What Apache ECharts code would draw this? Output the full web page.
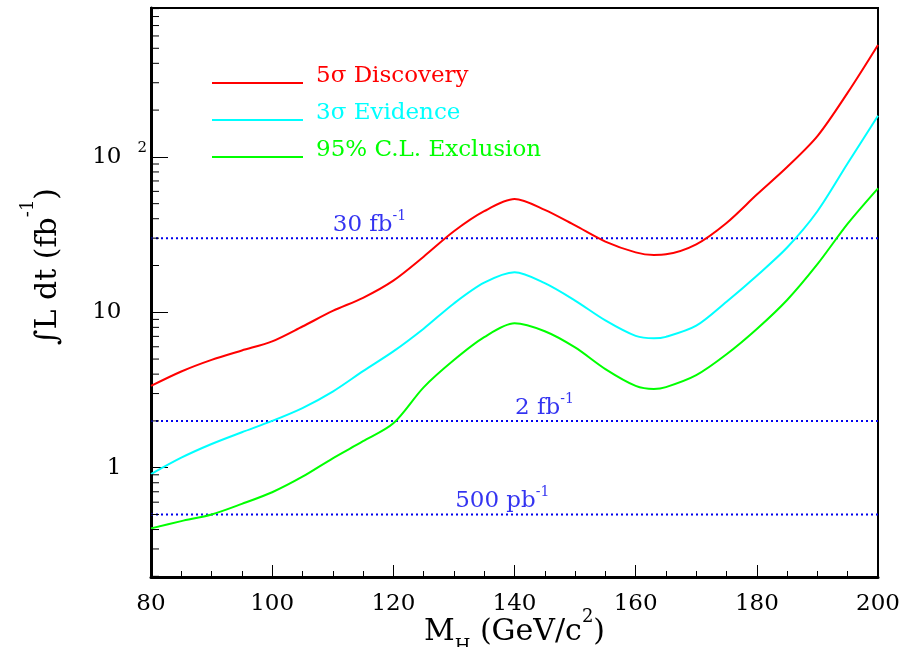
<!DOCTYPE html>
<html><head><meta charset="utf-8">
<script src="https://cdn.jsdelivr.net/npm/echarts@6/dist/echarts.min.js"></script>
<style>html,body{margin:0;padding:0;background:#fff}#c{width:921px;height:647px}</style>
</head><body><div id="c"></div>
<script>
// ---- data ----
const masses      = [80, 85, 90, 95, 100, 105, 110, 115, 120, 125, 130, 135, 140, 145, 150, 155, 160, 163, 165, 170, 175, 180, 185, 190, 195, 200];
const discovery5s = [3.36, 4.16, 4.94, 5.68, 6.5, 8.1, 10.2, 12.4, 16.0, 22.8, 33.2, 44.7, 53.5, 45.6, 36.2, 28.5, 24.3, 23.4, 23.6, 27.4, 37.6, 57.2, 86, 136, 259, 525];
const evidence3s  = [0.91, 1.16, 1.42, 1.69, 2.0, 2.42, 3.09, 4.18, 5.6, 7.84, 11.4, 15.5, 18.1, 15.4, 11.9, 8.87, 7.05, 6.8, 6.95, 8.2, 11.7, 17.2, 26.1, 44.7, 91, 184];
const exclusion95 = [0.407, 0.453, 0.50, 0.585, 0.695, 0.875, 1.15, 1.48, 1.93, 3.29, 4.93, 6.92, 8.5, 7.55, 5.94, 4.31, 3.36, 3.21, 3.3, 3.94, 5.37, 7.81, 12.0, 20.4, 37.2, 62.8];
const seriesNames = ['5σ Discovery', '3σ Evidence', '95% C.L. Exclusion'];
const seriesColors = ['#ff0000', '#00ffff', '#00ff00'];

const refLevels    = [30, 2, 0.5];
const refMainText  = ['30 fb', '2 fb', '500 pb'];
const refSupText   = ['-1', '-1', '-1'];
const refLabelMass = [110, 140.1, 130.2];

const xRange = [80, 200];
const xInterval = 20;
const yRange = [0.198, 908];
const yMinorTicks = [0.2,0.3,0.4,0.5,0.6,0.7,0.8,0.9, 2,3,4,5,6,7,8,9, 20,30,40,50,60,70,80,90, 200,300,400,500,600,700,800,900];

// ---- chart ----
const FONT = 'DejaVu Serif';
const BLUE = '#0000ee';
const chart = echarts.init(document.getElementById('c'), null, {renderer: 'canvas'});

const curveData = [discovery5s, evidence3s, exclusion95];
const series = curveData.map((arr, k) => ({
  name: seriesNames[k],
  type: 'line',
  data: masses.map((m, i) => [m, arr[i]]),
  symbol: 'none',
  smooth: 0.3,
  lineStyle: {color: seriesColors[k], width: 2},
  itemStyle: {color: seriesColors[k]},
  z: 5,
  silent: true
}));

refLevels.forEach((lvl) => {
  series.push({
    type: 'line',
    data: [[xRange[0], lvl], [xRange[1], lvl]],
    symbol: 'none',
    lineStyle: {color: BLUE, width: 2, type: [2, 3]},
    silent: true,
    z: 3
  });
});

series.push({
  type: 'scatter',
  symbolSize: 0,
  silent: true,
  z: 6,
  data: refLevels.map((lvl, i) => ({
    value: [refLabelMass[i], lvl],
    label: {formatter: '{n|' + refMainText[i] + '}{s|' + refSupText[i] + '}'}
  })),
  label: {
    show: true,
    position: 'top',
    align: 'left',
    distance: -3,
    rich: {
      n: {fontFamily: FONT, fontSize: 23, color: BLUE, lineHeight: 32, verticalAlign: 'middle'},
      s: {fontFamily: FONT, fontSize: 14, color: BLUE, lineHeight: 14, verticalAlign: 'top'}
    }
  }
});

// y minor ticks (inside, on left axis)
series.push({
  type: 'custom',
  silent: true,
  clip: false,
  z: 7,
  data: yMinorTicks.map(v => [xRange[0], v]),
  encode: {x: 0, y: 1},
  renderItem: (params, api) => {
    const p = api.coord([api.value(0), api.value(1)]);
    return {type: 'line', shape: {x1: p[0], y1: p[1], x2: p[0] + 8, y2: p[1]},
            style: {stroke: '#000', lineWidth: 1}};
  }
});

const option = {
  animation: false,
  backgroundColor: '#fff',
  grid: {left: 151, right: 43, top: 8, bottom: 70, show: true, borderColor: '#000', borderWidth: 2,
         containLabel: false, outerBoundsMode: 'none'},
  legend: {
    data: seriesNames.map((n, k) => ({name: n, textStyle: {color: seriesColors[k]}})),
    orient: 'vertical',
    left: 212, top: 65,
    padding: 0,
    icon: 'rect',
    itemWidth: 91, itemHeight: 2,
    itemGap: 14,
    selectedMode: false,
    formatter: (name) => '{a|' + name + '}{b| }',
    textStyle: {
      fontFamily: FONT, fontSize: 23,
      rich: {
        a: {fontFamily: FONT, fontSize: 23, lineHeight: 22, verticalAlign: 'top', padding: [0, 0, 0, 8]},
        b: {fontSize: 1, lineHeight: 36, width: 0}
      }
    }
  },
  xAxis: {
    type: 'value', min: xRange[0], max: xRange[1], interval: xInterval,
    axisLine: {onZero: false, lineStyle: {color: '#000', width: 3}},
    axisTick: {inside: true, length: 12, lineStyle: {color: '#000', width: 1}},
    minorTick: {show: true, splitNumber: 4, length: 6, lineStyle: {color: '#000', width: 1}},
    splitLine: {show: false},
    axisLabel: {margin: 16, fontFamily: FONT, fontSize: 23, color: '#000'},
    name: '{m|M}{sub|H}{m| (GeV/c}{sup|2}{m|)}',
    nameLocation: 'middle', nameGap: 31, nameMoveOverlap: false,
    nameTextStyle: {
      rich: {
        m: {fontFamily: FONT, fontSize: 30, color: '#000', lineHeight: 48, verticalAlign: 'middle'},
        sub: {fontFamily: FONT, fontSize: 18, color: '#000', lineHeight: 27, verticalAlign: 'bottom'},
        sup: {fontFamily: FONT, fontSize: 18, color: '#000', lineHeight: 18, verticalAlign: 'top'}
      }
    }
  },
  yAxis: {
    type: 'log', logBase: 10, min: yRange[0], max: yRange[1],
    axisLine: {onZero: false, lineStyle: {color: '#000', width: 3}},
    axisTick: {inside: true, length: 17, lineStyle: {color: '#000', width: 1}},
    splitLine: {show: false},
    axisLabel: {
      margin: 4,
      formatter: (v) => {
        const lg = Math.log10(v);
        const e = Math.round(lg);
        if (Math.abs(lg - e) > 1e-6) return '';
        if (e === 0) return '{n|1}{h|2}';
        if (e === 1) return '{n|10}{h|2}';
        return '{n|10}{s|' + e + '}';
      },
      rich: {
        n: {fontFamily: FONT, fontSize: 23, color: '#000', lineHeight: 32, verticalAlign: 'middle'},
        s: {fontFamily: FONT, fontSize: 15, color: '#000', lineHeight: 15, verticalAlign: 'top', padding: [0, 0, 0, 16]},
        h: {fontFamily: FONT, fontSize: 15, color: 'rgba(0,0,0,0)', lineHeight: 15, verticalAlign: 'top', padding: [0, 0, 0, 16]}
      }
    },
    name: '{m|∫L dt (fb}{sup|-1}{m|)}',
    nameLocation: 'middle', nameGap: 74, nameRotate: 90, nameMoveOverlap: false,
    nameTextStyle: {
      padding: [0, 0, 0, 52],
      rich: {
        m: {fontFamily: FONT, fontSize: 30, color: '#000', lineHeight: 58, verticalAlign: 'middle'},
        sup: {fontFamily: FONT, fontSize: 18, color: '#000', lineHeight: 18, verticalAlign: 'top'}
      }
    }
  },
  series: series
};
chart.setOption(option);
</script>
</body></html>
